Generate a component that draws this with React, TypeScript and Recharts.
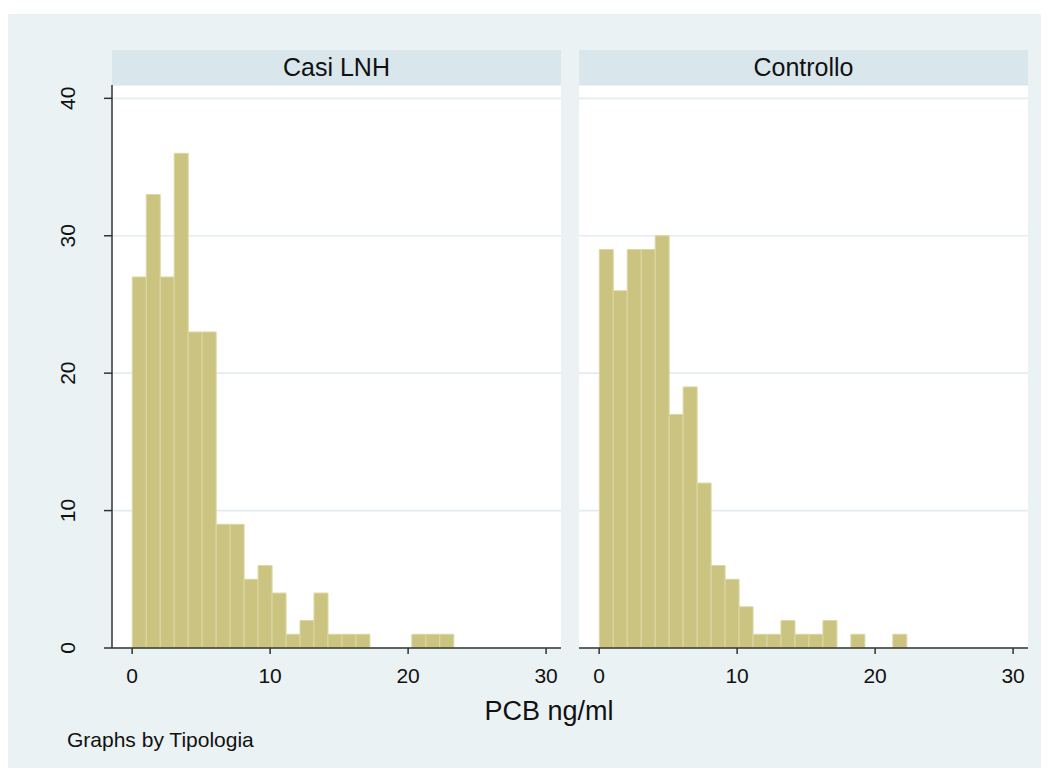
import React from "react";
import { BarChart, Bar, XAxis, YAxis, CartesianGrid } from "recharts";

// Histogram definition (PCB ng/ml)
const BIN_START = 0.01;
const BIN_WIDTH = 1.013;

const panelTitles = ["Casi LNH", "Controllo"];
const casiCounts = [27, 33, 27, 36, 23, 23, 9, 9, 5, 6, 4, 1, 2, 4, 1, 1, 1, 0, 0, 0, 1, 1, 1];
const controlloCounts = [29, 26, 29, 29, 30, 17, 19, 12, 6, 5, 3, 1, 1, 2, 1, 1, 2, 0, 1, 0, 0, 1];

const xTicks = [0, 10, 20, 30];
const yTicks = [0, 10, 20, 30, 40];
const xDomain: [number, number] = [-1.46, 31.08];
const yDomain: [number, number] = [0, 40.97];

const xLabel = "PCB ng/ml";
const noteText = "Graphs by Tipologia";

const toBins = (counts: number[]) =>
  counts.map((c, i) => ({ mid: BIN_START + (i + 0.5) * BIN_WIDTH, count: c }));

const casiData = toBins(casiCounts);
const controlloData = toBins(controlloCounts);

const BG = "#EAF2F3";
const STRIP = "#D9E6EB";
const GRID = "#E3ECEF";
const AXIS = "#333333";
const BAR_FILL = "#CBC480";
const BAR_STROKE = "#DCD7A4";
const FONT = "Arial, 'Liberation Sans', Helvetica, sans-serif";

const YTick = (props: any) => {
  const { x, y, payload } = props;
  return (
    <text
      x={x}
      y={y}
      transform={`rotate(-90, ${x}, ${y})`}
      textAnchor="middle"
      fontSize={21}
      fontFamily={FONT}
      fill="#111"
    >
      {payload.value}
    </text>
  );
};

const CHART_H = 603;

function Panel({ data, showY, width }: { data: any[]; showY: boolean; width: number }) {
  return (
    <BarChart
      width={width}
      height={CHART_H}
      data={data}
      margin={{ top: 0, right: 0, bottom: 0, left: 0 }}
      barCategoryGap={0}
      barGap={0}
    >
      <CartesianGrid
        vertical={false}
        stroke={GRID}
        strokeWidth={1.6}
        fill="#FFFFFF"
      />
      <XAxis
        dataKey="mid"
        type="number"
        domain={xDomain}
        ticks={xTicks}
        allowDataOverflow
        height={CHART_H - 563}
        tickSize={6}
        tickMargin={14}
        stroke={AXIS}
        tick={{ fontSize: 21, fontFamily: FONT, fill: "#111" }}
        axisLine={{ stroke: AXIS, strokeWidth: 1.5 }}
        tickLine={{ stroke: AXIS, strokeWidth: 1.5 }}
      />
      <YAxis
        type="number"
        domain={yDomain}
        ticks={yTicks}
        allowDataOverflow
        hide={!showY}
        width={showY ? 104 : 0}
        tickSize={8}
        tickMargin={29}
        stroke={AXIS}
        tick={<YTick />}
        axisLine={{ stroke: AXIS, strokeWidth: 1.5 }}
        tickLine={{ stroke: AXIS, strokeWidth: 1.5 }}
      />
      <Bar
        dataKey="count"
        fill={BAR_FILL}
        stroke={BAR_STROKE}
        strokeWidth={1}
        isAnimationActive={false}
      />
    </BarChart>
  );
}

const stripStyle: React.CSSProperties = {
  position: "absolute",
  top: 36,
  width: 449,
  height: 35,
  background: STRIP,
  display: "flex",
  alignItems: "center",
  justifyContent: "center",
  fontSize: 25,
  color: "#111",
};

export default function App() {
  return (
    <div
      style={{
        position: "relative",
        top: 6,
        width: 1041,
        height: 760,
        background: BG,
        fontFamily: FONT,
        overflow: "hidden",
      }}
    >
      <div style={{ ...stripStyle, left: 104 }}>{panelTitles[0]}</div>
      <div style={{ ...stripStyle, left: 571 }}>{panelTitles[1]}</div>

      <div style={{ position: "absolute", left: 0, top: 71 }}>
        <Panel data={casiData} showY={true} width={553} />
      </div>
      <div style={{ position: "absolute", left: 571, top: 71 }}>
        <Panel data={controlloData} showY={false} width={449} />
      </div>

      <svg
        width={1041}
        height={760}
        style={{ position: "absolute", left: 0, top: 0, pointerEvents: "none" }}
      >
        <text
          x={541}
          y={706}
          textAnchor="middle"
          fontSize={27}
          fontFamily={FONT}
          fill="#111"
        >
          {xLabel}
        </text>
        <text x={59} y={733} fontSize={21} fontFamily={FONT} fill="#111">
          {noteText}
        </text>
      </svg>
    </div>
  );
}
